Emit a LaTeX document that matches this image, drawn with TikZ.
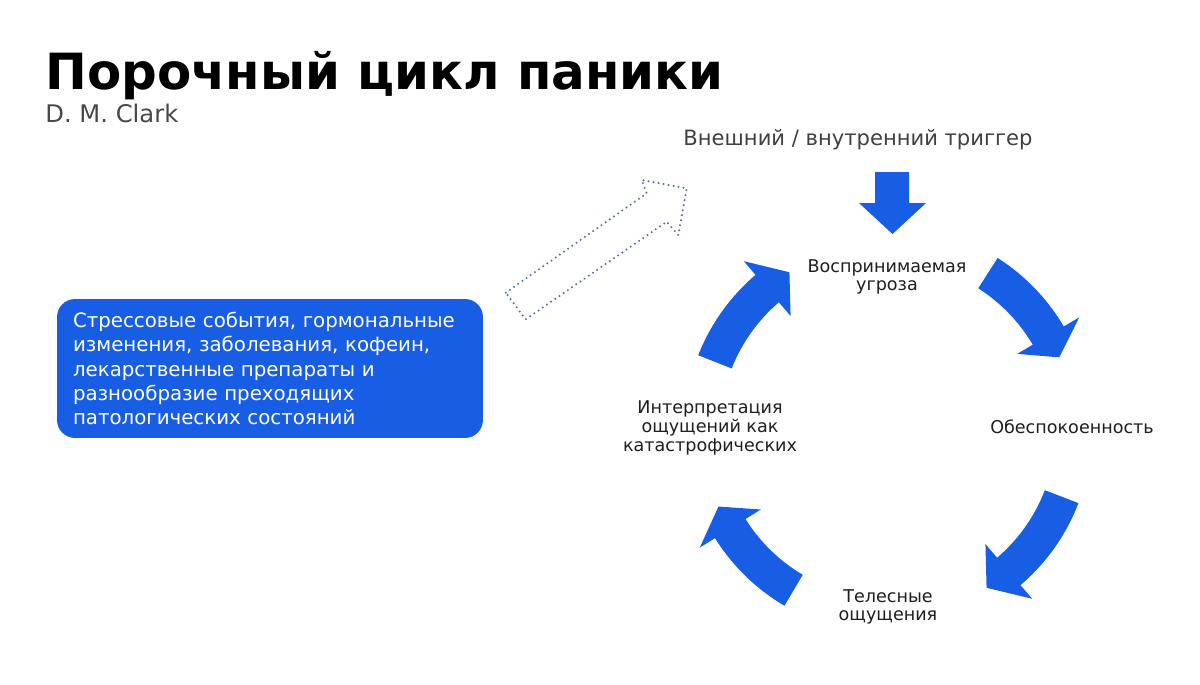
\documentclass[tikz,border=0pt]{standalone}
\usepackage{fontspec}
\setmainfont{DejaVu Sans}
\usetikzlibrary{positioning}

\definecolor{panicblue}{RGB}{24,94,228}
\definecolor{dotgrey}{RGB}{92,112,160}

\newcommand{\cyclearrow}[3]{%
  \fill[panicblue, shift={(c)}]
    (#1:\rin) -- (#1:\rout) arc[start angle=#1, end angle=#2, radius=\rout]
    -- (#2:\rhout) -- (#3:\rmid) -- (#2:\rhin)
    -- (#2:\rin) arc[start angle=#2, end angle=#1, radius=\rin] -- cycle;}

\begin{document}
\begin{tikzpicture}[
  x=0.02cm, y=-0.02cm,
  every node/.style={inner sep=0pt, text=black!88},
  steplabel/.style={align=center, font=\fontsize{10}{10.6}\selectfont},
  factorsbox/.style={rectangle, rounded corners=0.36cm, fill=panicblue, text=white,
    minimum width=8.52cm, minimum height=2.78cm, text width=7.88cm, align=left,
    font=\fontsize{11.25}{13.7}\selectfont},
  hollowarrow/.style={draw=dotgrey, line width=1.3pt, line cap=round, line join=round,
    dash pattern=on 0pt off 2.9pt}
]

\useasboundingbox[fill=white] (0,0) rectangle (1200,684);

\def\rmid{186}
\def\rin{168}
\def\rout{204}
\def\rhin{150}
\def\rhout{222}

\coordinate (c) at (888,430);

\node[anchor=base west, font=\bfseries\fontsize{28.4}{31}\selectfont, text=black] (title) at (45,89) {Порочный цикл паники};
\node[anchor=base west, font=\fontsize{13.8}{15}\selectfont, text=black!72] (author) at (45,122) {D. M. Clark};

\node[font=\fontsize{12}{14}\selectfont, text=black!75] (trigger) at (858,140) {Внешний / внутренний триггер};

\node[factorsbox] (factors) at (270,368.5) {Стрессовые события, гормональные\\изменения, заболевания, кофеин,\\лекарственные препараты и\\разнообразие преходящих\\патологических состояний};

\node[steplabel] (threat) at (887,277) {Воспринимаемая\\угроза};
\node[steplabel] (anxiety) at (1072,427) {Обеспокоенность};
\node[steplabel] (body) at (888,607) {Телесные\\ощущения};
\node[steplabel] (interpret) at (710,428) {Интерпретация\\ощущений как\\катастрофических};

\fill[panicblue] (875,172) -- (909,172) -- (909,203) -- (926,203) -- (892.5,234)
  -- (859,203) -- (875,203) -- cycle;

\cyclearrow{-158.5}{-130.5}{-122}
\cyclearrow{-57.5}{-30.5}{-23}
\cyclearrow{21}{49.5}{58}
\cyclearrow{120.5}{148}{155.7}

\draw[hollowarrow] (505.7,292.7) -- (646.7,193.3) -- (641.7,180) -- (686.7,188.3)
  -- (678.3,235) -- (666.7,221.7) -- (525.7,319.3) -- cycle;

\end{tikzpicture}
\end{document}
